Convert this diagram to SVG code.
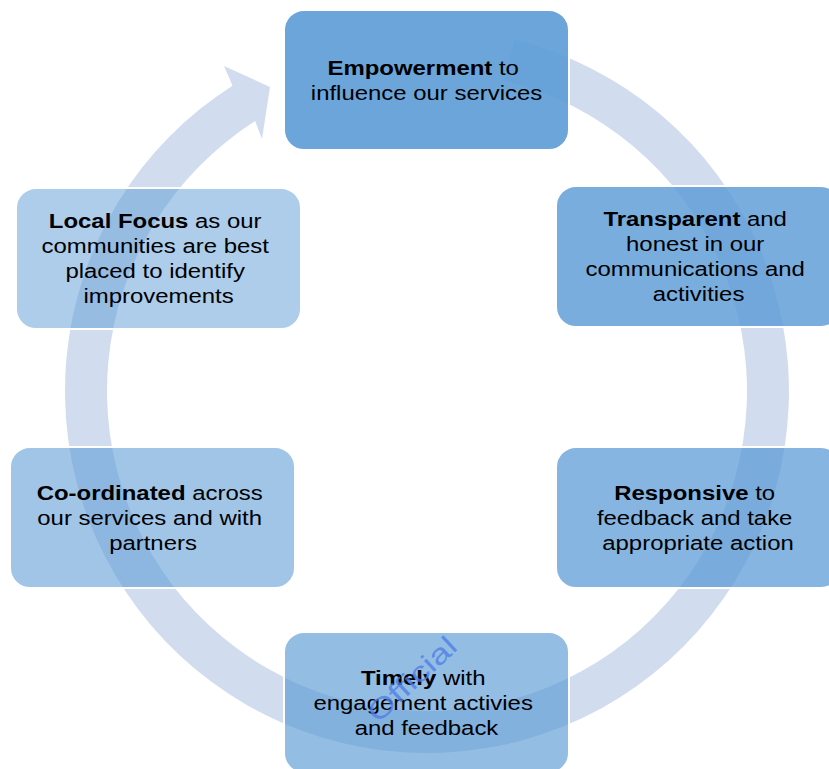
<svg xmlns="http://www.w3.org/2000/svg" width="829" height="769" viewBox="0 0 829 769">
  <style>
    .ring { fill: #d1ddef; }
    .box { fill: #5b9bd5; stroke: #ffffff; stroke-width: 2; }
    .lbl { font-family: "Liberation Sans", Arial, sans-serif; font-size: 21px; fill: #000000; text-anchor: middle; }
    .b { font-weight: bold; }
    .mark { font-family: "Liberation Sans", Arial, sans-serif; font-size: 28px; fill: #4f7de6; fill-opacity: 0.8; }
  </style>
  <rect width="829" height="769" fill="#ffffff"/>

  <!-- circular arrow running clockwise round the cycle, head at top-left -->
  <g id="connectors">
    <path class="ring" d="M 514.6 39.8 A 362 362 0 1 1 232.5 85.7 L 224 66 L 270 87 L 262 139 L 255.1 121.1 A 320 320 0 1 0 504.4 80.5 Z"/>
  </g>

  <g id="node-empowerment">
    <rect class="box" x="284" y="10" width="285" height="140" rx="20" fill-opacity="0.9"/>
    <text class="lbl" transform="translate(426.5 0) scale(1.14 1)">
      <tspan x="0" y="75"><tspan class="b">Empowerment</tspan> to</tspan>
      <tspan x="0" y="100">influence our services</tspan>
    </text>
  </g>

  <g id="node-transparent">
    <rect class="box" x="556" y="186" width="285" height="141" rx="20" fill-opacity="0.82"/>
    <text class="lbl" transform="translate(698.5 0) scale(1.14 1)">
      <tspan x="0" y="226.5"><tspan class="b">Transparent</tspan> and</tspan>
      <tspan x="0" y="251.5">honest in our</tspan>
      <tspan x="0" y="276.5">communications and</tspan>
      <tspan x="0" y="301.5">activities</tspan>
    </text>
  </g>

  <g id="node-responsive">
    <rect class="box" x="556" y="447" width="285" height="141" rx="20" fill-opacity="0.74"/>
    <text class="lbl" transform="translate(698 0) scale(1.14 1)">
      <tspan x="0" y="500"><tspan class="b">Responsive</tspan> to</tspan>
      <tspan x="0" y="525">feedback and take</tspan>
      <tspan x="0" y="550">appropriate action</tspan>
    </text>
  </g>

  <g id="node-timely">
    <rect class="box" x="284" y="632" width="285" height="141" rx="20" fill-opacity="0.66"/>
    <text class="lbl" transform="translate(426.5 0) scale(1.14 1)">
      <tspan x="0" y="685"><tspan class="b">Timely</tspan> with</tspan>
      <tspan x="0" y="710">engagement activies</tspan>
      <tspan x="0" y="735">and feedback</tspan>
    </text>
  </g>

  <g id="node-coordinated">
    <rect class="box" x="10" y="447" width="285" height="141" rx="20" fill-opacity="0.58"/>
    <text class="lbl" transform="translate(153 0) scale(1.14 1)">
      <tspan x="0" y="500"><tspan class="b">Co-ordinated</tspan> across</tspan>
      <tspan x="0" y="525">our services and with</tspan>
      <tspan x="0" y="550">partners</tspan>
    </text>
  </g>

  <g id="node-local-focus">
    <rect class="box" x="16" y="188" width="285" height="141" rx="20" fill-opacity="0.5"/>
    <text class="lbl" transform="translate(158.5 0) scale(1.14 1)">
      <tspan x="0" y="228.5"><tspan class="b">Local Focus</tspan> as our</tspan>
      <tspan x="0" y="253.5">communities are best</tspan>
      <tspan x="0" y="278.5">placed to identify</tspan>
      <tspan x="0" y="303.5">improvements</tspan>
    </text>
  </g>

  <!-- classification mark -->
  <text class="mark" transform="translate(378 724) rotate(-43) scale(1.3 1)">Official</text>
</svg>
